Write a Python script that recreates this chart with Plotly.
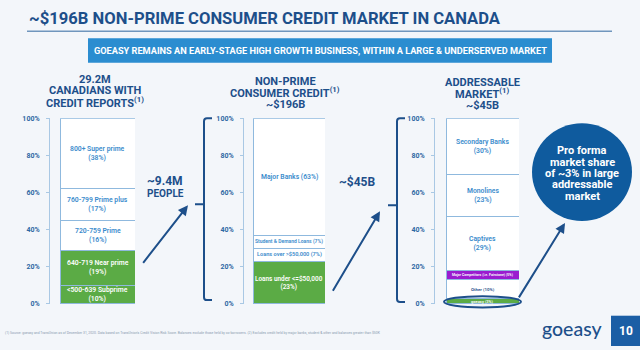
import plotly.graph_objects as go

W, H = 640, 350
def px(x): return x / W
def py(y): return 1 - y / H

# ---------------- data ----------------
pop_labels = ["<500-639 Subprime<br>(10%)", "640-719 Near prime<br>(19%)", "720-759 Prime<br>(16%)",
              "760-799 Prime plus<br>(17%)", "800+ Super prime<br>(38%)"]
pop_values = [10, 19, 16, 17, 38]
credit_labels = ["Loans under <=$50,000<br>(23%)", "Loans over >$50,000 (7%)",
                 "Student & Demand Loans (7%)", "Major Banks (63%)"]
credit_values = [23, 7, 7, 63]
addr_labels = ["goeasy (3%)", "Other (10%)", "Major Competitors (i.e. Fairstone) (5%)",
               "Captives<br>(29%)", "Monolines<br>(23%)", "Secondary Banks<br>(30%)"]
addr_values = [3, 10, 5, 29, 23, 30]
tick_vals = [0, 20, 40, 60, 80, 100]
tick_text = ["0%", "20%", "40%", "60%", "80%", "100%"]

# ---------------- styles ----------------
DARK = "#1d4f8a"
GREEN = "#5bab45"
PURPLE = "#9a1ccf"
WHITE = "#ffffff"
EDGE = "#8fb9de"
LBLUE = "#3a8bcc"
TICK = "#2d68a3"
BG = "#f3f6fa"
FONT = "Roboto, Liberation Sans, sans-serif"

charts = [
    dict(labels=pop_labels, values=pop_values,
         colors=[GREEN, GREEN, WHITE, WHITE, WHITE],
         tcolors=[WHITE, WHITE, LBLUE, LBLUE, LBLUE],
         tsizes=[6.8, 6.8, 6.8, 6.8, 6.8],
         bar=(60, 135), axis=49),
    dict(labels=credit_labels, values=credit_values,
         colors=[GREEN, WHITE, WHITE, WHITE],
         tcolors=[WHITE, LBLUE, LBLUE, LBLUE],
         tsizes=[6.4, 5.6, 5.0, 6.8],
         bar=(253, 325), axis=243),
    dict(labels=addr_labels, values=addr_values,
         colors=[GREEN, WHITE, PURPLE, WHITE, WHITE, WHITE],
         tcolors=[WHITE, DARK, WHITE, LBLUE, LBLUE, LBLUE],
         tsizes=[4.0, 4.4, 3.5, 6.8, 6.8, 6.8],
         bar=(446, 519), axis=434),
]

fig = go.Figure()
layout = {}
annotations = []
shapes = []
ytop, ybot = 117, 307

for i, ch in enumerate(charts):
    n = "" if i == 0 else str(i + 1)
    xa, ya = "x" + n, "y" + n
    for lab, v, c in zip(ch["labels"], ch["values"], ch["colors"]):
        fig.add_trace(go.Bar(x=[0], y=[v], xaxis=xa, yaxis=ya, width=1,
                             marker=dict(color=c, line=dict(color=EDGE, width=1)),
                             showlegend=False, hoverinfo="skip"))
    layout["xaxis" + n] = dict(domain=[px(ch["bar"][0]), px(ch["bar"][1])], range=[-0.5, 0.5],
                               visible=False, anchor=ya, fixedrange=True)
    layout["yaxis" + n] = dict(domain=[py(ybot), py(ytop)], range=[0, 100], anchor="free",
                               position=px(ch["axis"]), tickvals=tick_vals, ticktext=tick_text,
                               showline=True, linecolor="#a9c8e4", linewidth=1,
                               ticks="outside", ticklen=3, tickcolor="#a9c8e4",
                               showgrid=False, zeroline=False, fixedrange=True,
                               tickfont=dict(family=FONT, size=7, color=TICK, weight="bold"),
                               ticklabelstandoff=5)
    cum = 0
    for lab, v, tc, ts in zip(ch["labels"], ch["values"], ch["tcolors"], ch["tsizes"]):
        annotations.append(dict(x=0, y=cum + v / 2, xref=xa, yref=ya, text=lab, showarrow=False,
                                font=dict(family=FONT, size=ts, color=tc, weight=600),
                                align="center"))
        cum += v

# headers
def header(lines, cx, ys, sizes):
    for t, y, s in zip(lines, ys, sizes):
        annotations.append(dict(x=px(cx), y=py(y), xref="paper", yref="paper", text=t,
                                showarrow=False, font=dict(family=FONT, size=s, color=DARK, weight="bold"),
                                xanchor="center", yanchor="middle"))

header(["29.2M", "CANADIANS WITH", "CREDIT REPORTS<sup>(1)</sup>"], 95, [77, 89, 101], [11, 11, 11])
header(["NON-PRIME", "CONSUMER CREDIT<sup>(1)</sup>", "~$196B"], 285, [79, 91, 103], [11, 11, 11])
header(["ADDRESSABLE", "MARKET<sup>(1)</sup>", "~$45B"], 482, [80, 92, 104], [11, 11, 11])
header(["~9.4M", "PEOPLE"], 165, [181, 194], [12, 10])
header(["~$45B"], 357, [182], [12])

# title
annotations.append(dict(x=px(27), y=py(15), xref="paper", yref="paper", xanchor="left", yanchor="middle",
                        text="~$196B NON-PRIME CONSUMER CREDIT MARKET IN CANADA", showarrow=False,
                        font=dict(family=FONT, size=16.6, color=DARK, weight="bold")))
shapes.append(dict(type="line", xref="paper", yref="paper", x0=px(27), x1=px(612), y0=py(28), y1=py(28),
                   line=dict(color="#7096bd", width=1.5)))
shapes.append(dict(type="rect", xref="paper", yref="paper", x0=px(88), x1=px(552), y0=py(60), y1=py(35),
                   fillcolor="#2b8dd0", line=dict(width=0)))
annotations.append(dict(x=px(320), y=py(47.5), xref="paper", yref="paper", xanchor="center", yanchor="middle",
                        text="GOEASY REMAINS AN EARLY-STAGE HIGH GROWTH BUSINESS, WITHIN A LARGE & UNDERSERVED MARKET",
                        showarrow=False, font=dict(family=FONT, size=9.2, color="white", weight="bold")))

# brackets
def bracket(xv, top, bot, nub_y, serif=8, nub=9, r=3):
    path = (f"M {px(xv+serif)},{py(top)} L {px(xv+r)},{py(top)} Q {px(xv)},{py(top)} {px(xv)},{py(top+r)} "
            f"L {px(xv)},{py(bot-r)} Q {px(xv)},{py(bot)} {px(xv+r)},{py(bot)} L {px(xv+serif)},{py(bot)} "
            f"M {px(xv)},{py(nub_y)} L {px(xv-nub)},{py(nub_y)}")
    shapes.append(dict(type="path", xref="paper", yref="paper", path=path,
                       line=dict(color=DARK, width=2)))

bracket(204, 117, 303, 205)
bracket(397, 117, 305, 206)

# arrows
for hx, hy, tx, ty in [(188, 206, 142, 265), (380, 212, 332, 293), (565, 224, 518, 300)]:
    annotations.append(dict(x=px(hx), y=py(hy), xref="paper", yref="paper", ax=tx - hx, ay=ty - hy,
                            text="", showarrow=True, arrowhead=2, arrowsize=1, arrowwidth=2,
                            arrowcolor=DARK))

# ellipse around goeasy
shapes.append(dict(type="circle", xref="paper", yref="paper", x0=px(444), x1=px(521), y0=py(310.5), y1=py(299),
                   line=dict(color=DARK, width=2)))

# circle callout
shapes.append(dict(type="circle", xref="paper", yref="paper", x0=px(532), x1=px(632), y0=py(222), y1=py(122),
                   fillcolor="#0f5b9e", line=dict(width=0)))
for t, y in zip(["Pro forma", "market share", "of ~3% in large", "addressable", "market"],
                [150, 162, 173.5, 185, 196.5]):
    annotations.append(dict(x=px(582), y=py(y), xref="paper", yref="paper", text=t, showarrow=False,
                            xanchor="center", yanchor="middle",
                            font=dict(family=FONT, size=11, color="white", weight="bold")))

# footer
annotations.append(dict(x=px(3), y=py(336), xref="paper", yref="paper", xanchor="left", yanchor="middle",
                        text="(1) Source: goeasy and TransUnion as of December 31, 2020. Data based on TransUnion's Credit Vision Risk Score. "
                             "Balances exclude those held by co-borrowers. (2) Excludes credit held by major banks, student & other and balances greater than $50K",
                        showarrow=False, font=dict(family=FONT, size=3.4, color="#8a9bb0")))
annotations.append(dict(x=px(572), y=py(332), xref="paper", yref="paper", xanchor="center", yanchor="middle",
                        text="goeasy", showarrow=False, font=dict(family="Lato, sans-serif", size=19.5, color=DARK, weight=500)))
shapes.append(dict(type="rect", xref="paper", yref="paper", x0=px(611), x1=px(640), y0=py(350), y1=py(319),
                   fillcolor="#1b5ea5", line=dict(width=0)))
annotations.append(dict(x=px(625.5), y=py(334.5), xref="paper", yref="paper", xanchor="center", yanchor="middle",
                        text="10", showarrow=False, font=dict(family=FONT, size=12, color="white", weight="bold")))

fig.update_layout(width=W, height=H, margin=dict(l=0, r=0, t=0, b=0), barmode="stack",
                  paper_bgcolor=BG, plot_bgcolor=BG, annotations=annotations, shapes=shapes,
                  showlegend=False, **layout)
fig.write_html("out.html", config={"displayModeBar": False})
